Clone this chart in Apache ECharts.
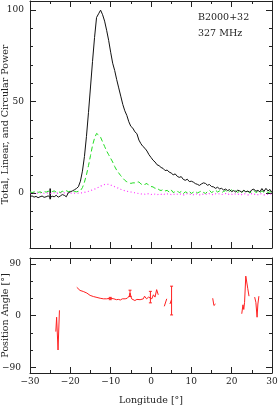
<!DOCTYPE html>
<html><head><meta charset="utf-8">
<script src="https://cdn.jsdelivr.net/npm/echarts@6/dist/echarts.min.js"></script>
<style>html,body{margin:0;padding:0;background:#fff}#c{width:278px;height:407px}</style>
</head><body><div id="c"></div>
<script>
const longitude = [-30,-29.5,-29,-28.5,-28,-27.5,-27,-26.5,-26,-25.5,-25,-24.5,-24,-23.5,-23,-22.5,-22,-21.5,-21,-20.5,-20,-19.5,-19,-18.5,-18,-17.5,-17,-16.5,-16,-15.5,-15,-14.5,-14,-13.5,-13,-12.5,-12,-11.5,-11,-10.5,-10,-9.5,-9,-8.5,-8,-7.5,-7,-6.5,-6,-5.5,-5,-4.5,-4,-3.5,-3,-2.5,-2,-1.5,-1,-0.5,0,0.5,1,1.5,2,2.5,3,3.5,4,4.5,5,5.5,6,6.5,7,7.5,8,8.5,9,9.5,10,10.5,11,11.5,12,12.5,13,13.5,14,14.5,15,15.5,16,16.5,17,17.5,18,18.5,19,19.5,20,20.5,21,21.5,22,22.5,23,23.5,24,24.5,25,25.5,26,26.5,27,27.5,28,28.5,29,29.5,30];
const totalPower = [-2,-1.5,-2.2,-1.8,-2.5,-2,-1.6,-2.3,-2,-1.5,-2.4,-1.7,-2,-1.2,-2.2,-1.6,-0.8,-1.2,-2,
  0.2,0.7,1.2,1.8,2.5,3.5,6.5,12,20,31,44,58,72,85,96,98,100,97.5,94,89,83.5,77,
  71,67,62,57.5,53,48.5,45,42.5,39,36.5,35.5,33.5,32.5,29,27,25.5,24.5,23,21,19.5,
  18,17,15.5,15,14,13.5,12.3,12.6,11.5,11,10,10.5,9.2,8.6,9,7.5,7,7.6,6.3,6.5,
  6,5.2,4.8,4.2,5,5.6,5.3,4.3,4.7,3.6,3.4,2.6,3.2,2.3,2.6,1.7,2.2,1.4,1.9,0.8,
  1.4,0.6,1.6,1.2,0.6,1.5,0.7,1.1,0.5,1.8,2.2,1.0,1.5,0.7,2.5,0.9,2.6,1.2,2.0,0.3];
const linearPower = [0.8,0.3,0.6,1.0,0.4,0.7,0.2,0.9,0.5,1.1,0.4,0.8,1.2,0.5,0.9,0.3,1.0,0.6,1.3,
  0.8,1.0,0.6,0.9,0.7,1.0,1.3,3,6,10,15,20.5,26,30,32.6,31.8,30.5,28,25.5,23,21,19,
  17,14.5,12.5,11,9.5,8.3,7,6.2,5.8,5.3,5.6,5.6,6,6.1,5,4.4,4.8,5.3,4,3.6,
  3.4,2.6,2.8,1.8,1.4,2.0,1.2,1.5,0.6,1.8,0.3,0.8,1.3,0.2,0.9,-0.3,0.7,0.2,1.0,-0.2,
  0.5,0.9,0.1,0.6,1.2,0.4,-0.2,0.8,1.5,0.3,0.9,1.6,0.6,1.2,0.2,0.9,1.4,0.3,1.0,1.8,
  0.7,1.3,0.4,1.1,0.2,1.6,0.5,1.0,0.1,0.8,1.5,0.3,0.9,0.2,1.2,0.5,1.0,0.3,0.8,0.4];
const circularPower = [0.2,-0.1,0.3,0,-0.2,0.1,0.3,-0.1,0.2,0,-0.3,0.1,0.2,-0.2,0,0.3,-0.1,0.1,-0.2,
  0,-0.1,0.1,0,-0.2,0,0.1,0.2,0.4,0.7,1.0,1.4,1.8,2.2,2.7,3.2,3.8,4.3,4.7,4.9,4.7,4.4,
  4.0,3.5,3.1,2.6,2.1,1.7,1.3,1.0,0.8,0.6,0.4,0.2,0,-0.3,-0.5,-0.3,-0.6,-0.2,-0.5,-0.8,
  -0.3,-0.6,-1.0,-0.4,-0.7,-0.2,-0.9,-0.5,-0.3,-0.8,-0.4,-1.0,-0.6,-0.2,-0.7,-1.1,-0.5,-0.3,-0.8,-0.4,
  -0.9,-0.2,-0.6,-1.0,-0.3,-0.7,-0.4,-0.9,-0.2,-0.6,-1.0,-0.4,-0.7,-0.3,-0.8,-0.5,-0.2,-0.9,-0.4,-0.6,
  -1.0,-0.3,-0.7,-0.4,-0.8,-0.2,-0.6,-1.0,-0.5,-0.3,-0.8,-0.4,-0.9,-0.2,-0.6,-1.0,-0.5,-0.7,-0.3,-0.8];
const offPulseError = [[-25,-3.3,2.5]];
const paSegments = [
  [[-23.6,-28],[-23.4,-3],[-23.05,-60],[-22.7,9]],
  [[-18.4,49],[-18.0,46.5],[-17.6,43.6],[-16.8,41.8],[-15.9,39],[-15.1,35],[-14.3,33],[-13.4,31.4],[-12.6,30],[-11.8,29],[-11.0,29],[-10.6,30],[-10.1,30],[-9.7,28],[-9.2,29],[-8.6,27.5],[-8.1,28],[-7.6,27],[-7.1,29],[-6.4,29],[-5.9,30],[-5.4,33.6],[-5.2,39],[-4.8,29],[-4.4,30],[-4.0,26],[-3.5,28],[-3.1,29],[-2.7,27.5],[-2.3,30],[-1.9,29],[-1.6,33.6],[-1.1,29],[-0.6,32],[-0.15,35],[0.2,29],[0.6,36],[1.0,32],[1.4,45],[1.8,36]],
  [[3.3,16],[3.9,29]],
  [[4.7,20],[5.1,28]],
  [[15.3,30],[15.6,17.4],[16.0,20]],
  [[22.5,3],[22.8,18.6],[23.0,10.5],[23.2,23],[23.5,68.5],[23.8,67],[24.0,46.5],[24.3,33.6]],
  [[25.7,32],[26.0,23],[26.3,-3],[26.5,20],[26.75,33.6]]
];
const paErrors = [[-10.1,27.5,31.5],[-5.2,33,44],[-0.15,22,42],[5.1,1,51]];
const powerMajorTicks = [0,50,100];
const powerMinorTicks = [-20,-10,10,20,30,40,60,70,80,90];
const paMajorTicks = [-90,0,90];
const paMinorTicks = [-60,-30,30,60];

const FONT = 'DejaVu Serif';
const AX = '#222';
function fmt(v){ return v < 0 ? '\u2212' + (-v) : String(v); }
const nameStyle = {fontFamily: FONT, fontSize: 9.5, color: AX};

function xAxisDef(grid, pos, showLabel, name){
  return {type:'value', gridIndex:grid, position:pos, min:-30, max:30, interval:10,
    axisLine:{show:true, onZero:false, lineStyle:{color:AX, width:1}},
    axisTick:{show:true, inside:true, length:6, lineStyle:{color:AX}},
    minorTick:{show:true, splitNumber:2, length:3, lineStyle:{color:AX}},
    axisLabel:{show:showLabel, margin:4, fontFamily:FONT, fontSize:9, color:AX, formatter:fmt},
    splitLine:{show:false}, minorSplitLine:{show:false},
    name:name || '', nameLocation:'middle', nameGap:23, nameMoveOverlap:false, nameTextStyle:nameStyle};
}
function yAxisDef(grid, pos, min, max, ticks, len, showLine, showLabels, name, labelMargin, nameGap){
  return {type:'value', gridIndex:grid, position:pos, min:min, max:max,
    axisLine:{show:showLine, onZero:false, lineStyle:{color:AX, width:1}},
    axisTick:{show:true, inside:true, length:len, customValues:ticks, lineStyle:{color:AX}},
    axisLabel:{show:showLabels, customValues:ticks, margin:labelMargin || 6, fontFamily:FONT, fontSize:9, color:AX, formatter:fmt},
    splitLine:{show:false},
    name:name || '', nameLocation:'middle', nameGap:nameGap || 0, nameMoveOverlap:false, nameTextStyle:nameStyle};
}

function errRender(color, cap, width){
  return function(params, api){
    const x = api.value(0);
    const lo = api.coord([x, api.value(1)]);
    const hi = api.coord([x, api.value(2)]);
    const st = {stroke:color, lineWidth:width};
    const ch = [{type:'line', shape:{x1:lo[0], y1:lo[1], x2:hi[0], y2:hi[1]}, style:st}];
    if (cap > 0){
      ch.push({type:'line', shape:{x1:lo[0]-cap, y1:lo[1], x2:lo[0]+cap, y2:lo[1]}, style:st});
      ch.push({type:'line', shape:{x1:hi[0]-cap, y1:hi[1], x2:hi[0]+cap, y2:hi[1]}, style:st});
    }
    return {type:'group', children:ch};
  };
}

const zip = (a) => longitude.map((x, i) => [x, a[i]]);

const series = [
  {type:'line', xAxisIndex:0, yAxisIndex:0, data:zip(circularPower), showSymbol:false, symbol:'none',
    lineStyle:{color:'#ff33ff', width:1.2, type:[1,2.5]}},
  {type:'line', xAxisIndex:0, yAxisIndex:0, data:zip(linearPower), showSymbol:false, symbol:'none',
    lineStyle:{color:'#22dd22', width:1, type:[5,3]}},
  {type:'line', xAxisIndex:0, yAxisIndex:0, data:zip(totalPower), showSymbol:false, symbol:'none',
    lineStyle:{color:'#111', width:1}},
  {type:'custom', xAxisIndex:0, yAxisIndex:0, data:offPulseError, encode:{x:0, y:[1,2]},
    renderItem:errRender('#000', 0, 1.5)},
  {type:'custom', xAxisIndex:2, yAxisIndex:4, data:paErrors, encode:{x:0, y:[1,2]},
    renderItem:errRender('#ff2020', 1.5, 1)}
];
paSegments.forEach(seg => series.push({type:'line', xAxisIndex:2, yAxisIndex:4, data:seg,
  showSymbol:false, symbol:'none', lineStyle:{color:'#ff2020', width:1}}));

const chart = echarts.init(document.getElementById('c'), null, {renderer:'canvas'});
chart.setOption({
  animation:false,
  backgroundColor:'#fff',
  grid:[
    {left:30, right:6, top:1, height:247, outerBoundsMode:'none', containLabel:false},
    {left:30, right:6, top:258, height:115, outerBoundsMode:'none', containLabel:false}
  ],
  xAxis:[
    xAxisDef(0, 'bottom', false),
    xAxisDef(0, 'top', false),
    xAxisDef(1, 'bottom', true, 'Longitude [\u00b0]'),
    xAxisDef(1, 'top', false)
  ],
  yAxis:[
    yAxisDef(0, 'left', -30, 105, powerMajorTicks, 6, true, true, 'Total, Linear, and Circular Power', 6, 19),
    yAxisDef(0, 'left', -30, 105, powerMinorTicks, 3, false, false),
    yAxisDef(0, 'right', -30, 105, powerMajorTicks, 6, true, false),
    yAxisDef(0, 'right', -30, 105, powerMinorTicks, 3, false, false),
    yAxisDef(1, 'left', -100, 100, paMajorTicks, 6, true, true, 'Position Angle [\u00b0]', 9, 19),
    yAxisDef(1, 'left', -100, 100, paMinorTicks, 3, false, false),
    yAxisDef(1, 'right', -100, 100, paMajorTicks, 6, true, false),
    yAxisDef(1, 'right', -100, 100, paMinorTicks, 3, false, false)
  ],
  graphic:[
    {type:'text', left:198, top:13, style:{text:'B2000+32', font:'9.5px "DejaVu Serif"', fill:AX}},
    {type:'text', left:198, top:29, style:{text:'327 MHz', font:'9.5px "DejaVu Serif"', fill:AX}}
  ],
  series:series
});
</script>
</body></html>
